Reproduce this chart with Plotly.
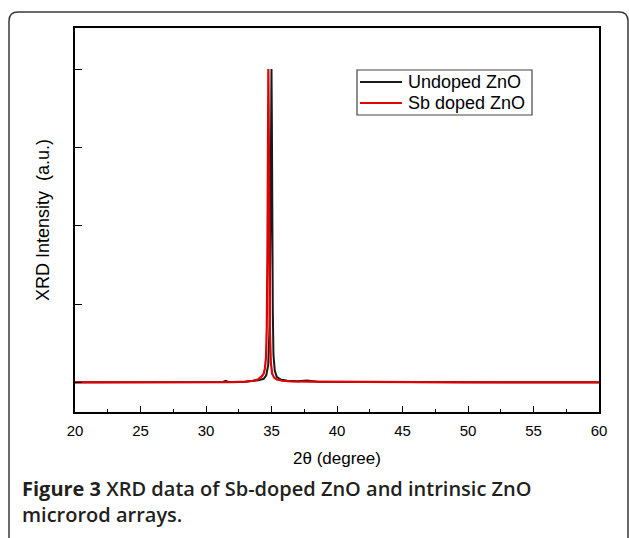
import plotly.graph_objects as go

# ---- data (arbitrary intensity units) ----
undoped_x = [20, 25, 30, 31.3, 31.5, 31.7, 33.0, 34.0, 34.4, 34.6, 34.75, 34.85, 34.92, 34.97, 35.0,
             35.03, 35.05, 35.07, 35.1, 35.15, 35.25, 35.4, 35.7, 36.2, 37.0, 37.7, 38.5, 45, 50, 60]
undoped_y = [0, 0, 0, 4, 18, 4, 8, 25, 45, 90, 220, 700, 2000, 3600, 4000,
             3300, 2250, 1950, 900, 350, 150, 70, 35, 20, 15, 22, 8, 4, 0, 0]

sb_x = [20, 25, 30, 32.0, 33.0, 33.6, 34.0, 34.25, 34.4, 34.5, 34.58, 34.64, 34.69, 34.73, 34.76,
        34.79, 34.83, 34.88, 34.95, 35.05, 35.2, 35.4, 35.8, 36.5, 38, 42, 50, 60]
sb_y = [0, 0, 0, 3, 10, 20, 40, 75, 110, 180, 320, 700, 1700, 3300, 4000,
        3300, 1600, 650, 250, 110, 60, 35, 20, 12, 8, 4, 0, 0]

series_names = ["Undoped ZnO", "Sb doped ZnO"]
series_colors = ["#1a1a1a", "#e00000"]
x_tick_vals = [20, 25, 30, 35, 40, 45, 50, 55, 60]
y_tick_vals = [0, 1000, 2000, 3000, 4000]

caption_bold = "Figure 3"
caption_line1 = " XRD data of Sb-doped ZnO and intrinsic ZnO"
caption_line2 = "microrod arrays."

AX_FONT = "Arial, Liberation Sans, sans-serif"

fig = go.Figure()
fig.add_trace(go.Scatter(x=undoped_x, y=undoped_y, mode="lines", name=series_names[0],
                         line=dict(color=series_colors[0], width=2), showlegend=False))
fig.add_trace(go.Scatter(x=sb_x, y=sb_y, mode="lines", name=series_names[1],
                         line=dict(color=series_colors[1], width=2.2), showlegend=False))

W, H = 629, 538
L, R, T, B = 75, 599, 28, 412
pw, ph = R - L, B - T

def px(xp):
    return (xp - L) / pw

def py(yp):
    return (B - yp) / ph

fig.update_layout(
    width=W, height=H,
    margin=dict(l=L, r=W - R, t=T, b=H - B),
    paper_bgcolor="white", plot_bgcolor="white",
    font=dict(family=AX_FONT, color="black"),
    showlegend=False,
    xaxis=dict(range=[20, 60], tickvals=x_tick_vals, ticks="inside", ticklen=6,
               tickwidth=1.2, tickcolor="black", showline=True, linecolor="black",
               linewidth=1.5, mirror=True, showgrid=False, zeroline=False,
               tickfont=dict(size=15, family=AX_FONT), ticklabelstandoff=4,
               minor=dict(dtick=2.5, ticks="inside", ticklen=3, tickcolor="black", tickwidth=1.2, showgrid=False),
               title=dict(text="2θ (degree)", font=dict(size=17, family=AX_FONT), standoff=14)),
    yaxis=dict(range=[-379, 4524], tickvals=y_tick_vals, ticks="inside", ticklen=7,
               tickwidth=1.2, tickcolor="black", showticklabels=False, showline=True,
               linecolor="black", linewidth=1.5, mirror=True, showgrid=False, zeroline=False,
               title=dict(text="XRD Intensity  (a.u.)", font=dict(size=18, family=AX_FONT), standoff=19)),
)

# legend box drawn by hand to match the original's compact layout
fig.add_shape(type="rect", xref="paper", yref="paper",
              x0=px(357), x1=px(532), y0=py(115), y1=py(70),
              line=dict(color="#444444", width=1.2), fillcolor="white", layer="above")
legend_rows = [82, 103]
for name, color, row in zip(series_names, series_colors, legend_rows):
    fig.add_shape(type="line", xref="paper", yref="paper",
                  x0=px(360), x1=px(402), y0=py(row), y1=py(row),
                  line=dict(color=color, width=2), layer="above")
    fig.add_annotation(text=name, xref="paper", yref="paper", x=px(406), y=py(row),
                       xanchor="left", yanchor="middle", showarrow=False,
                       font=dict(size=18, family=AX_FONT, color="black"))

# outer rounded frame of the figure panel
x0, x1 = px(9), px(628)
y1, y0 = py(12), py(560)
rx, ry = 9 / pw, 9 / ph
path = (f"M {x0},{y0} L {x0},{y1 - ry} Q {x0},{y1} {x0 + rx},{y1} "
        f"L {x1 - rx},{y1} Q {x1},{y1} {x1},{y1 - ry} L {x1},{y0}")
fig.add_shape(type="path", path=path, xref="paper", yref="paper",
              line=dict(color="#3a3a3a", width=1.5))

CAP_FONT = dict(family="Open Sans, sans-serif", size=20, color="#231f20", weight=600)
fig.add_annotation(text=f"<b>{caption_bold}</b>{caption_line1}", xref="paper", yref="paper",
                   x=px(20), y=py(488), xanchor="left", yanchor="middle", showarrow=False,
                   font=CAP_FONT)
fig.add_annotation(text=caption_line2, xref="paper", yref="paper",
                   x=px(20), y=py(514), xanchor="left", yanchor="middle", showarrow=False,
                   font=CAP_FONT)

fig.write_html("out.html")
